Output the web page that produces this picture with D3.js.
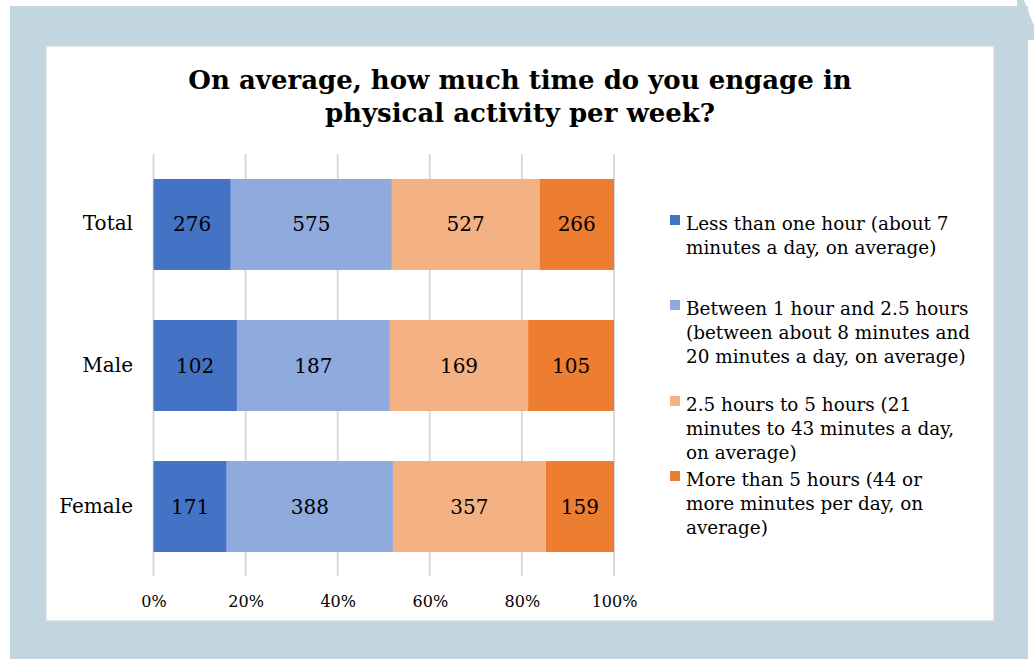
<meta charset="utf-8" />
<style>body { margin: 0; }</style>
<svg width="1034" height="659"></svg>
<script src="https://cdn.jsdelivr.net/npm/d3@7"></script>
<script>
	// chart data
	var categories = ['Total', 'Male', 'Female'];
	var seriesNames = ['less1', 'btw1', 'btw25', 'more5'];
	var less1 = [276, 102, 171];
	var btw1 = [575, 187, 388];
	var btw25 = [527, 169, 357];
	var more5 = [266, 105, 159];
	var tickValues = [0, 0.2, 0.4, 0.6, 0.8, 1];
	var legendLabels = [
		['Less than one hour (about 7', 'minutes a day, on average)'],
		['Between 1 hour and 2.5 hours', '(between about 8 minutes and', '20 minutes a day, on average)'],
		['2.5 hours to 5 hours (21', 'minutes to 43 minutes a day,', 'on average)'],
		['More than 5 hours (44 or', 'more minutes per day, on', 'average)']
	];
	var titleLines = ['On average, how much time do you engage in', 'physical activity per week?'];

	var colors = ['#4472c4', '#8faadc', '#f4b183', '#ed7d31'];
	var font = 'Georgia, "DejaVu Serif", serif';

	var svg = d3.select('svg'),
		width = +svg.attr('width'),
		height = +svg.attr('height');

	svg.append('rect').attr('width', width).attr('height', height).attr('fill', '#fff');

	// slide-like background
	svg.append('rect')
		.attr('x', 10).attr('y', 6)
		.attr('width', 1018).attr('height', height - 6)
		.attr('fill', '#c3d5de');
	svg.append('polygon')
		.attr('points', '1017,0 1024,0 1034,26 1034,40 1028,40 1017,6')
		.attr('fill', '#c3d5de');

	svg.append('rect')
		.attr('x', 46).attr('y', 46)
		.attr('width', 948).attr('height', 575)
		.attr('fill', '#fff')
		.attr('stroke', '#d9d9d9')
		.attr('stroke-width', 1.5);

	// title
	svg.append('text')
		.attr('x', 520).attr('y', 89)
		.attr('text-anchor', 'middle')
		.style('font-family', font)
		.style('font-weight', 'bold')
		.style('font-size', '26px')
		.selectAll('tspan')
		.data(titleLines)
		.join('tspan')
		.attr('x', 520)
		.attr('dy', (d, i) => (i ? 33 : 0))
		.text(d => d);

	// stack data
	var rows = categories.map((c, i) => {
		var r = { cat: c };
		r.less1 = less1[i];
		r.btw1 = btw1[i];
		r.btw25 = btw25[i];
		r.more5 = more5[i];
		return r;
	});

	var stack = d3.stack().keys(seriesNames).offset(d3.stackOffsetExpand);
	var series = stack(rows);

	var x = d3.scaleLinear().domain([0, 1]).range([153.5, 614]);
	var y = d3.scaleBand().domain(categories).range([154, 577]).paddingInner(0.355).paddingOuter(0.177);

	var g = svg.append('g');

	// gridlines
	g.selectAll('.grid')
		.data(tickValues)
		.join('line')
		.attr('x1', d => x(d)).attr('x2', d => x(d))
		.attr('y1', 154).attr('y2', 576)
		.attr('stroke', '#d9d9d9')
		.attr('stroke-width', 2);

	var layer = g.selectAll('.layer')
		.data(series)
		.join('g')
		.attr('fill', (d, i) => colors[i]);

	layer.selectAll('rect')
		.data(d => d)
		.join('rect')
		.attr('x', d => x(d[0]))
		.attr('width', d => x(d[1]) - x(d[0]))
		.attr('y', d => y(d.data.cat))
		.attr('height', y.bandwidth());

	layer.selectAll('text')
		.data(d => d.map(v => ({ v: v, key: d.key })))
		.join('text')
		.attr('x', d => (x(d.v[0]) + x(d.v[1])) / 2)
		.attr('y', d => y(d.v.data.cat) + y.bandwidth() / 2 + 7)
		.attr('text-anchor', 'middle')
		.attr('fill', '#000')
		.style('font-family', font)
		.style('font-size', '20px')
		.text(d => d.v.data[d.key]);

	// category axis labels
	g.selectAll('.cat')
		.data(categories)
		.join('text')
		.attr('x', 133)
		.attr('y', d => y(d) + y.bandwidth() / 2 + 6)
		.attr('text-anchor', 'end')
		.style('font-family', font)
		.style('font-size', '20px')
		.text(d => d);

	// x axis labels
	var xAxis = d3.axisBottom(x)
		.tickValues(tickValues)
		.tickFormat(d3.format('.0%'))
		.tickSize(0)
		.tickPadding(0);
	var ax = svg.append('g')
		.attr('transform', 'translate(0,594)')
		.call(xAxis);
	ax.select('.domain').remove();
	ax.selectAll('text')
		.attr('dy', '0.8em')
		.attr('fill', '#000')
		.style('font-family', font)
		.style('font-size', '16px');

	// legend
	var legendY = [224, 309, 405, 480];
	var leg = svg.append('g')
		.selectAll('g')
		.data(legendLabels)
		.join('g')
		.attr('transform', (d, i) => 'translate(670,' + legendY[i] + ')');

	leg.append('rect')
		.attr('x', 0).attr('y', -9)
		.attr('width', 10).attr('height', 10)
		.attr('fill', (d, i) => colors[i]);

	leg.append('text')
		.style('font-family', font)
		.style('font-size', '18.4px')
		.selectAll('tspan')
		.data(d => d)
		.join('tspan')
		.attr('x', 16)
		.attr('y', (d, i) => 6 + i * 24)
		.text(d => d);
</script>
